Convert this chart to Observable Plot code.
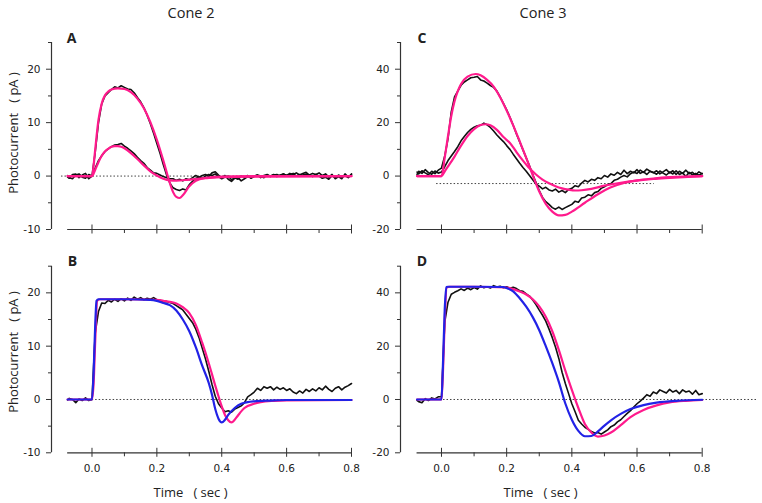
<!DOCTYPE html>
<html><head><meta charset="utf-8">
<script src="https://cdn.jsdelivr.net/npm/d3@7"></script>
<script src="https://cdn.jsdelivr.net/npm/@observablehq/plot@0.6"></script>
<style>
html,body{margin:0;padding:0;background:#fff;}
#chart{position:relative;width:762px;height:503px;overflow:hidden;font-family:"Open Sans",sans-serif;color:#222;background:#fff;}
.lbl{position:absolute;white-space:nowrap;transform:translate(-50%,-50%);line-height:1;}
.rot{transform:translate(-50%,-50%) rotate(-90deg);}
.panel{position:absolute;}
</style></head><body><div id="chart"></div>
<script>
// ---------- data ----------
const columnTitles = ["Cone 2", "Cone 3"];
const panelLetters = ["A", "B", "C", "D"];
const yAxisTitle = "Photocurrent\u00a0\u00a0\u00a0(\u00a0pA\u00a0)";
const xAxisTitle = "Time\u00a0\u00a0\u00a0(\u00a0sec\u00a0)";

const xTicks = [0, 0.2, 0.4, 0.6, 0.8];
const xMinorTicks = [0.1, 0.3, 0.5, 0.7];
const yTicksCone2 = [-10, 0, 10, 20];
const yMinorCone2 = [-5, 5, 15, 25];
const yTicksCone3 = [-20, 0, 20, 40];
const yMinorCone3 = [-10, 10, 30, 50];

// recording sample times (sec)
const timeGrid = [-0.075,-0.07,-0.06,-0.05,-0.04,-0.03,-0.02,-0.01,
 0.00,0.01,0.02,0.03,0.04,0.05,0.06,0.07,0.08,0.09,
 0.10,0.11,0.12,0.13,0.14,0.15,0.16,0.17,0.18,0.19,
 0.20,0.21,0.22,0.23,0.24,0.25,0.26,0.27,0.28,0.29,
 0.30,0.31,0.32,0.33,0.34,0.35,0.36,0.37,0.38,0.39,
 0.40,0.41,0.42,0.43,0.44,0.45,0.46,0.47,0.48,0.49,
 0.50,0.51,0.52,0.53,0.54,0.55,0.56,0.57,0.58,0.59,
 0.60,0.61,0.62,0.63,0.64,0.65,0.66,0.67,0.68,0.69,
 0.70,0.71,0.72,0.73,0.74,0.75,0.76,0.77,0.78,0.79,
 0.80];

// Cone 2, panel A: recorded responses (pA)
const recA_large = [-0.2,-0.4,0.3,0.4,-0.3,0.2,0.5,-0.5,
 0.0,4.5,10.0,13.5,15.0,15.6,16.2,16.7,16.5,16.9,
 16.6,16.3,16.2,15.6,14.7,13.9,12.8,11.4,9.8,8.0,
 6.1,4.2,2.1,0.2,-1.3,-2.2,-2.5,-2.7,-2.4,-2.6,
 -1.6,-1.0,-0.4,-0.2,0.1,0.3,-0.1,0.6,0.8,0.2,
 -0.3,0.1,-0.6,-1.0,-0.4,-0.3,-0.9,-0.5,-0.1,-0.3,
 0.0,0.2,-0.3,0.1,0.3,-0.1,0.2,0.3,0.0,0.4,
 0.1,0.5,0.3,0.6,0.2,0.5,0.7,0.2,0.5,0.3,
 0.6,0.1,0.4,-0.2,0.3,-0.5,-0.1,-0.5,0.4,-0.2,
 0.3];
const recA_small = [0.1,-0.3,-0.5,0.2,0.4,-0.2,-0.4,0.3,
 0.0,1.5,2.9,3.8,4.6,5.1,5.5,5.8,5.9,6.1,
 5.6,5.2,4.7,4.2,3.5,2.9,2.4,1.6,1.1,0.6,
 0.5,0.2,-0.1,-0.3,-0.5,-0.5,-0.8,-0.6,-0.9,-0.5,
 -0.7,-0.3,0.1,-0.2,-0.4,0.0,0.3,0.1,0.4,-0.1,
 -0.5,-0.2,0.0,-0.7,-0.3,-0.6,0.0,-0.2,0.1,-0.4,
 -0.1,0.2,0.0,-0.3,0.2,0.0,0.3,-0.1,0.2,0.4,
 0.1,0.3,0.5,0.0,0.3,0.2,0.4,0.1,-0.1,0.3,
 0.0,-0.4,-0.2,-0.6,0.1,-0.3,0.2,-0.2,0.1,-0.3,
 0.4];
// Cone 2, panel A: model fits
const fitA_large_t = [-0.075,0,0.005,0.01,0.02,0.03,0.04,0.05,0.06,0.08,0.10,0.12,0.14,0.16,0.18,0.20,0.22,0.24,0.25,0.26,0.27,0.28,0.30,0.32,0.35,0.40,0.50,0.60,0.80];
const fitA_large_v = [0,0,2.0,5.0,10.5,13.6,15.1,15.8,16.2,16.4,16.3,15.7,14.5,12.7,10.1,6.8,2.9,-1.3,-3.0,-3.9,-4.1,-3.6,-1.9,-0.9,-0.35,-0.1,0,0,0];
const fitA_small_t = [-0.075,0,0.01,0.02,0.03,0.04,0.05,0.06,0.07,0.08,0.09,0.10,0.12,0.14,0.16,0.18,0.20,0.22,0.24,0.26,0.30,0.35,0.40,0.50,0.80];
const fitA_small_v = [0,0,1.2,2.6,3.8,4.6,5.1,5.5,5.6,5.6,5.5,5.2,4.3,3.2,2.0,0.9,0.1,-0.5,-0.8,-0.85,-0.65,-0.4,-0.2,-0.1,0];

// Cone 2, panel B
const recB = [-0.1,0.2,0.0,-0.6,0.1,-0.2,0.3,-0.2,
 0.0,12.5,16.5,18.1,18.0,18.6,18.3,18.8,18.4,18.9,
 18.5,19.0,18.6,19.2,18.8,19.1,18.7,19.0,18.8,19.1,
 18.7,18.6,18.3,18.4,18.2,18.0,17.6,17.2,16.8,16.0,
 15.2,14.4,13.2,11.6,9.6,7.6,5.3,2.8,0.6,-0.8,
 -1.6,-2.3,-2.1,-2.4,-1.8,-1.5,-1.2,-0.6,0.5,0.9,
 1.4,2.1,1.7,2.4,2.1,2.4,1.8,2.3,1.9,2.2,
 1.7,2.0,1.4,1.1,1.6,1.2,1.9,1.5,2.0,1.6,
 2.2,1.8,2.5,1.9,1.5,2.1,2.4,1.8,2.3,2.6,
 3.0];
const fitB_pink_t = [-0.075,0,0.005,0.01,0.016,0.025,0.1,0.2,0.22,0.24,0.26,0.28,0.30,0.32,0.34,0.36,0.38,0.39,0.40,0.41,0.42,0.43,0.44,0.45,0.47,0.50,0.52,0.56,0.60,0.80];
const fitB_pink_v = [0,0,3,11,18.5,18.8,18.8,18.7,18.5,18.3,18.0,17.3,16.2,14.0,10.6,6.8,2.6,0.6,-1.3,-2.9,-3.9,-4.3,-3.8,-3.0,-1.6,-0.8,-0.5,-0.25,-0.15,-0.1];
const fitB_blue_t = [-0.075,0,0.005,0.01,0.014,0.02,0.1,0.18,0.20,0.22,0.24,0.26,0.28,0.30,0.32,0.34,0.36,0.37,0.38,0.39,0.40,0.41,0.42,0.44,0.46,0.48,0.50,0.55,0.60,0.80];
const fitB_blue_v = [0,0,5,14,18.5,18.8,18.8,18.7,18.5,18.1,17.7,16.7,15.0,12.8,9.8,6.3,3.1,0.9,-1.8,-3.6,-4.3,-3.8,-2.9,-1.6,-0.8,-0.5,-0.35,-0.2,-0.1,-0.1];

// Cone 3, panel C
const recC_large = [1.5,0.8,2.0,1.2,0.5,1.8,0.9,2.2,
 3.0,7.5,14.0,24.0,29.6,31.8,34.0,35.2,36.0,36.8,
 37.0,37.3,36.0,35.6,34.8,33.9,33.2,31.8,29.6,27.2,
 24.8,22.0,19.0,15.8,12.8,9.8,6.8,3.8,0.6,-2.4,
 -5.4,-8.0,-9.6,-10.6,-11.8,-12.4,-11.6,-12.5,-11.8,-11.2,
 -10.6,-9.4,-9.8,-8.2,-7.9,-7.0,-7.4,-6.2,-5.8,-4.6,
 -4.0,-3.2,-2.8,-1.6,-1.2,-0.4,0.2,-0.3,0.9,1.5,
 1.0,2.2,1.4,2.6,1.8,1.2,2.0,0.8,1.6,2.4,
 1.2,2.0,0.6,1.8,1.0,2.2,0.9,1.4,0.4,1.6,
 0.8];
const recC_small = [0.6,1.8,1.0,2.4,1.3,0.7,1.9,1.1,
 1.5,3.5,5.8,7.5,9.2,11.0,13.2,14.8,16.3,17.5,
 18.3,18.8,19.0,19.8,19.2,18.2,16.9,15.4,14.1,12.9,
 11.4,10.0,8.2,6.5,4.8,3.2,1.8,0.2,-1.4,-3.0,
 -3.8,-4.8,-4.2,-5.2,-5.6,-4.9,-6.0,-5.4,-6.2,-5.0,
 -4.6,-3.6,-4.0,-2.6,-1.6,-2.2,-1.2,-1.6,-0.6,-1.0,
 0.2,-0.4,0.8,0.3,1.4,0.6,2.2,0.9,1.8,1.2,
 2.4,1.0,1.6,0.6,1.8,1.4,0.7,1.9,1.1,0.4,
 1.5,0.8,2.0,0.6,1.2,-0.2,1.4,0.5,1.0,0.3,
 1.0];
const fitC_large_t = [-0.075,0,0.01,0.02,0.03,0.04,0.05,0.06,0.08,0.105,0.12,0.14,0.16,0.18,0.20,0.22,0.24,0.26,0.28,0.30,0.32,0.34,0.36,0.38,0.40,0.44,0.48,0.52,0.56,0.60,0.65,0.70,0.80];
const fitC_large_v = [0,0,7,15,22.5,28,31.8,34.5,37.2,38.2,37.7,36.0,33.5,29.5,24.5,19.0,13.0,6.8,0.3,-5.8,-10.4,-13.3,-14.7,-14.5,-13.3,-10.0,-6.8,-4.2,-2.6,-1.6,-0.9,-0.4,0];
const fitC_small_t = [-0.075,0,0.01,0.02,0.04,0.06,0.08,0.10,0.12,0.135,0.15,0.17,0.19,0.21,0.23,0.25,0.27,0.29,0.31,0.33,0.35,0.37,0.39,0.41,0.43,0.46,0.50,0.55,0.60,0.65,0.70,0.80];
const fitC_small_v = [0,0,1.8,3.6,7.3,11.4,15.0,17.6,19.1,19.4,19.0,17.3,14.6,12.4,9.0,5.8,2.9,0.6,-1.3,-2.7,-3.8,-4.6,-5.1,-5.4,-5.3,-4.8,-3.6,-2.5,-1.7,-1.1,-0.7,0];
const baselineC = -2.8;

// Cone 3, panel D
const recD = [-0.3,-0.8,-1.2,0.3,-0.4,0.6,0.2,1.0,
 1.0,29.0,36.5,39.5,40.2,40.8,41.5,40.9,41.8,41.2,
 42.0,41.4,42.6,41.9,42.3,41.8,42.7,42.2,42.5,41.9,
 42.3,41.7,42.1,41.6,40.8,40.6,39.6,38.8,37.3,35.6,
 33.5,31.6,29.4,26.4,23.2,19.6,15.4,10.2,6.0,2.2,
 -1.6,-4.6,-7.8,-9.2,-10.4,-11.2,-12.0,-12.6,-12.4,-13.0,
 -12.2,-11.4,-10.2,-9.6,-8.4,-7.6,-6.4,-5.2,-4.2,-2.8,
 -1.6,-0.6,0.5,1.8,1.2,2.8,2.2,3.6,3.0,2.4,
 3.8,2.8,3.4,2.2,3.6,2.8,3.2,2.0,3.4,1.8,
 2.2];
const fitD_pink_t = [-0.075,0,0.005,0.01,0.016,0.025,0.1,0.2,0.22,0.24,0.26,0.28,0.30,0.32,0.34,0.36,0.38,0.40,0.42,0.44,0.46,0.48,0.50,0.52,0.55,0.58,0.62,0.66,0.70,0.75,0.80];
const fitD_pink_v = [0,0,12,30,42,42.3,42.3,42.0,41.4,40.5,39.4,37.6,34.9,31.0,25.6,18.6,10.8,3.6,-3.2,-9.2,-12.4,-13.9,-13.5,-12.4,-9.6,-6.6,-3.9,-2.2,-1.1,-0.5,-0.2];
const fitD_blue_t = [-0.075,0,0.005,0.01,0.015,0.02,0.1,0.19,0.20,0.22,0.24,0.26,0.28,0.30,0.32,0.34,0.36,0.38,0.40,0.42,0.44,0.46,0.48,0.50,0.52,0.55,0.58,0.62,0.66,0.72,0.80];
const fitD_blue_v = [0,0,15,34,42.2,42.3,42.3,42.2,41.8,40.6,38.0,34.8,30.9,26.0,20.0,13.6,6.6,-1.5,-7.6,-11.8,-13.8,-13.7,-12.0,-9.8,-7.8,-5.4,-3.6,-2.1,-1.2,-0.5,-0.1];

// ---------- drawing ----------
const BLACK = "#111", PINK = "#ff1a8c", BLUE = "#2222e6", AXIS = "#333";
const TICKFONT = "'DejaVu Sans', Verdana, sans-serif";
const zip = (t, v) => t.map((x, i) => ({t: x, v: v[i]}));
const rec = v => ({data: zip(timeGrid, v), stroke: BLACK, w: 1.6, curve: "linear"});
const fit = (t, v, c) => ({data: zip(t, v), stroke: c, w: 2.2, curve: "monotone-x"});

const panels = [
  {left: 0, top: 0, width: 381, height: 250, mL: 51, mR: 30, mT: 42, mB: 21,
   xDom: [-0.1248, 0.8], yDom: [-10, 25], yTicks: yTicksCone2, yMinor: yMinorCone2, xLabels: false,
   zero: {y: 0, x1: -0.094, x2: 0.8},
   traces: [rec(recA_large), rec(recA_small), fit(fitA_large_t, fitA_large_v, PINK), fit(fitA_small_t, fitA_small_v, PINK)]},
  {left: 0, top: 250, width: 381, height: 253, mL: 51, mR: 30, mT: 15.7, mB: 50.7,
   xDom: [-0.1248, 0.8], yDom: [-10, 25], yTicks: yTicksCone2, yMinor: yMinorCone2, xLabels: true,
   zero: {y: 0, x1: -0.075, x2: 0.8},
   traces: [rec(recB), fit(fitB_pink_t, fitB_pink_v, PINK), fit(fitB_blue_t, fitB_blue_v, BLUE)]},
  {left: 360, top: 0, width: 402, height: 250, mL: 40, mR: 60.3, mT: 42, mB: 21,
   xDom: [-0.1258, 0.8], yDom: [-20, 50], yTicks: yTicksCone3, yMinor: yMinorCone3, xLabels: false,
   zero: {y: baselineC, x1: -0.015, x2: 0.653},
   traces: [rec(recC_large), rec(recC_small), fit(fitC_large_t, fitC_large_v, PINK), fit(fitC_small_t, fitC_small_v, PINK)]},
  {left: 360, top: 250, width: 402, height: 253, mL: 40, mR: 60.3, mT: 15.7, mB: 50.7,
   xDom: [-0.1258, 0.8], yDom: [-20, 50], yTicks: yTicksCone3, yMinor: yMinorCone3, xLabels: true,
   zero: {y: 0, x1: -0.069, x2: 0.972},
   traces: [rec(recD), fit(fitD_pink_t, fitD_pink_v, PINK), fit(fitD_blue_t, fitD_blue_v, BLUE)]}
];

const chart = document.getElementById("chart");

for (const p of panels) {
  const marks = [
    Plot.ruleY([p.zero.y], {x1: p.zero.x1, x2: p.zero.x2, stroke: "#444", strokeWidth: 1, strokeDasharray: "1.5,2"}),
    ...p.traces.map(tr => Plot.line(tr.data, {x: "t", y: "v", stroke: tr.stroke, strokeWidth: tr.w, curve: tr.curve, strokeLinejoin: "round"})),
    Plot.ruleX([p.xDom[0]], {y1: p.yDom[0], y2: p.yDom[1], stroke: AXIS, strokeWidth: 1.2}),
    Plot.ruleY([p.yDom[0]], {x1: -0.075, x2: 0.8, stroke: AXIS, strokeWidth: 1.2}),
    Plot.axisY({ticks: p.yTicks, tickSize: 5, tickPadding: 6, tickFormat: d => String(d), stroke: AXIS, fontSize: 10.5, fontFamily: TICKFONT}),
    Plot.axisY({ticks: p.yMinor, tickSize: 3, tickFormat: () => "", stroke: AXIS}),
    Plot.axisX({ticks: xTicks, tickSize: 9, dy: -4.5, tickFormat: () => "", stroke: AXIS}),
    Plot.axisX({ticks: xMinorTicks, tickSize: 4, tickFormat: () => "", stroke: AXIS})
  ];
  if (p.xLabels) marks.push(Plot.axisX({ticks: xTicks, tickSize: 0, tickPadding: 12, tickFormat: d => d.toFixed(1), fontSize: 10.5, fontFamily: TICKFONT}));
  const svg = Plot.plot({
    width: p.width, height: p.height,
    marginLeft: p.mL, marginRight: p.mR, marginTop: p.mT, marginBottom: p.mB,
    x: {domain: p.xDom, label: null},
    y: {domain: p.yDom, label: null},
    style: {background: "transparent", overflow: "visible", fontFamily: TICKFONT, fontSize: "10.5px", color: "#222"},
    marks
  });
  svg.classList.add("panel");
  svg.style.left = p.left + "px";
  svg.style.top = p.top + "px";
  svg.style.position = "absolute";
  svg.style.maxWidth = "none";
  chart.appendChild(svg);
}

function addLabel(text, x, y, css, rotate) {
  const d = document.createElement("div");
  d.className = "lbl" + (rotate ? " rot" : "");
  d.textContent = text;
  d.style.left = x + "px";
  d.style.top = y + "px";
  Object.assign(d.style, css);
  chart.appendChild(d);
}
addLabel(columnTitles[0], 191, 13, {fontSize: "14.5px"});
addLabel(columnTitles[1], 543, 13, {fontSize: "14.5px"});
addLabel(panelLetters[0], 71.5, 37.5, {fontSize: "14px", fontWeight: "bold"});
addLabel(panelLetters[1], 72.5, 260.5, {fontSize: "14px", fontWeight: "bold"});
addLabel(panelLetters[2], 422, 37.5, {fontSize: "14px", fontWeight: "bold"});
addLabel(panelLetters[3], 422, 260.5, {fontSize: "14px", fontWeight: "bold"});
addLabel(yAxisTitle, 12.5, 132.7, {fontSize: "13px"}, true);
addLabel(yAxisTitle, 12.5, 352, {fontSize: "13px"}, true);
addLabel(xAxisTitle, 190.5, 491.5, {fontSize: "13px"});
addLabel(xAxisTitle, 540.5, 491.5, {fontSize: "13px"});
</script></body></html>
